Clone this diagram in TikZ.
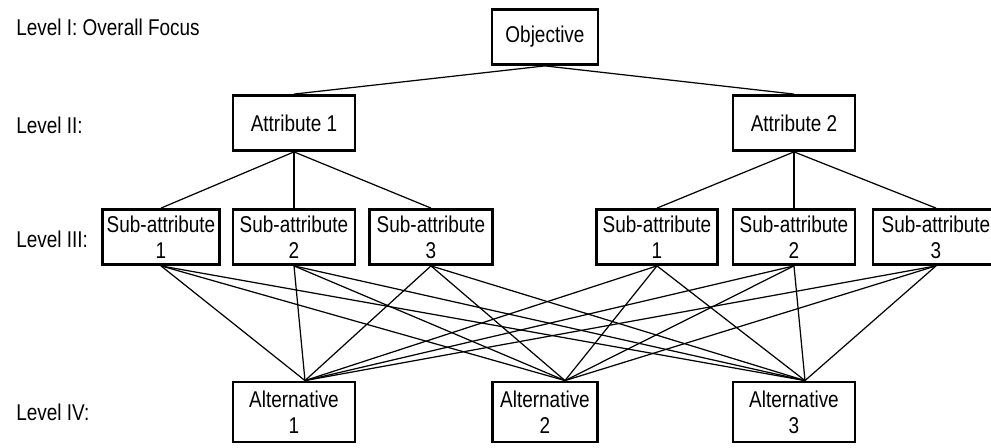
\documentclass[tikz,border=0pt]{standalone}
\usepackage{fontspec}
\setmainfont{Liberation Sans}[FakeStretch=0.83]
\usepackage{tikz}
\tikzset{
box/.style={draw, line width=1.6pt, inner sep=0pt, align=center, minimum height=55*0.02cm},
link/.style={line width=0.7pt},
lvl/.style={anchor=west, inner sep=0pt}}

\begin{document}
\begin{tikzpicture}[x=0.02cm, y=-0.02cm, font=\fontsize{13}{14.7}\selectfont]
    \useasboundingbox (0,0) rectangle (991,448);

                \node[lvl] (L1) at (16,27) {Level I: Overall Focus};
                \node[lvl] (L2) at (16,125) {Level II:};
                \node[lvl] (L3) at (16,239) {Level III:};
                \node[lvl] (L4) at (16,412) {Level IV:};

                \node[box, minimum width=106*0.02cm] (O) at (545,37) {Objective};
                \node[box, minimum width=122*0.02cm] (A1) at (294,123) {Attribute 1};
                \node[box, minimum width=122*0.02cm] (A2) at (794,123) {Attribute 2};

                \node[box, minimum width=117*0.02cm] (S1) at (161,237) {Sub-attribute\\1};
                \node[box, minimum width=122*0.02cm] (S2) at (294,237) {Sub-attribute\\2};
                \node[box, minimum width=123*0.02cm] (S3) at (431,237) {Sub-attribute\\3};
                \node[box, minimum width=121*0.02cm] (S4) at (657,237) {Sub-attribute\\1};
                \node[box, minimum width=122*0.02cm] (S5) at (794,237) {Sub-attribute\\2};
                \node[box, minimum width=126*0.02cm] (S6) at (936,237) {Sub-attribute\\3};

                \node[box, minimum width=122*0.02cm, minimum height=60*0.02cm] (V1) at (294,412) {Alternative\\1};
                \node[box, minimum width=105*0.02cm, minimum height=60*0.02cm] (V2) at (545,412) {Alternative\\2};
                \node[box, minimum width=122*0.02cm, minimum height=60*0.02cm] (V3) at (794,412) {Alternative\\3};

                \draw[link] (O.south) -- (A1.north);
                \draw[link] (O.south) -- (A2.north);

                \draw[link] (A1.south) -- (S1.north);
                \draw[link] (A1.south) -- (S2.north);
                \draw[link] (A1.south) -- (S3.north);
                \draw[link] (A2.south) -- (S4.north);
                \draw[link] (A2.south) -- (S5.north);
                \draw[link] (A2.south) -- (S6.north);

                \draw[link] (S1.south) -- ([xshift=11*0.02cm]V1.north);
                \draw[link] (S1.south) -- ([xshift=20*0.02cm]V2.north);
                \draw[link] (S1.south) -- ([xshift=11*0.02cm]V3.north);
                \draw[link] (S2.south) -- ([xshift=11*0.02cm]V1.north);
                \draw[link] (S2.south) -- ([xshift=20*0.02cm]V2.north);
                \draw[link] (S2.south) -- ([xshift=11*0.02cm]V3.north);
                \draw[link] (S3.south) -- ([xshift=11*0.02cm]V1.north);
                \draw[link] (S3.south) -- ([xshift=20*0.02cm]V2.north);
                \draw[link] (S3.south) -- ([xshift=11*0.02cm]V3.north);
                \draw[link] (S4.south) -- ([xshift=11*0.02cm]V1.north);
                \draw[link] (S4.south) -- ([xshift=20*0.02cm]V2.north);
                \draw[link] (S4.south) -- ([xshift=11*0.02cm]V3.north);
                \draw[link] (S5.south) -- ([xshift=11*0.02cm]V1.north);
                \draw[link] (S5.south) -- ([xshift=20*0.02cm]V2.north);
                \draw[link] (S5.south) -- ([xshift=11*0.02cm]V3.north);
                \draw[link] (S6.south) -- ([xshift=11*0.02cm]V1.north);
                \draw[link] (S6.south) -- ([xshift=20*0.02cm]V2.north);
                \draw[link] (S6.south) -- ([xshift=11*0.02cm]V3.north);

            \end{tikzpicture}
\end{document}
